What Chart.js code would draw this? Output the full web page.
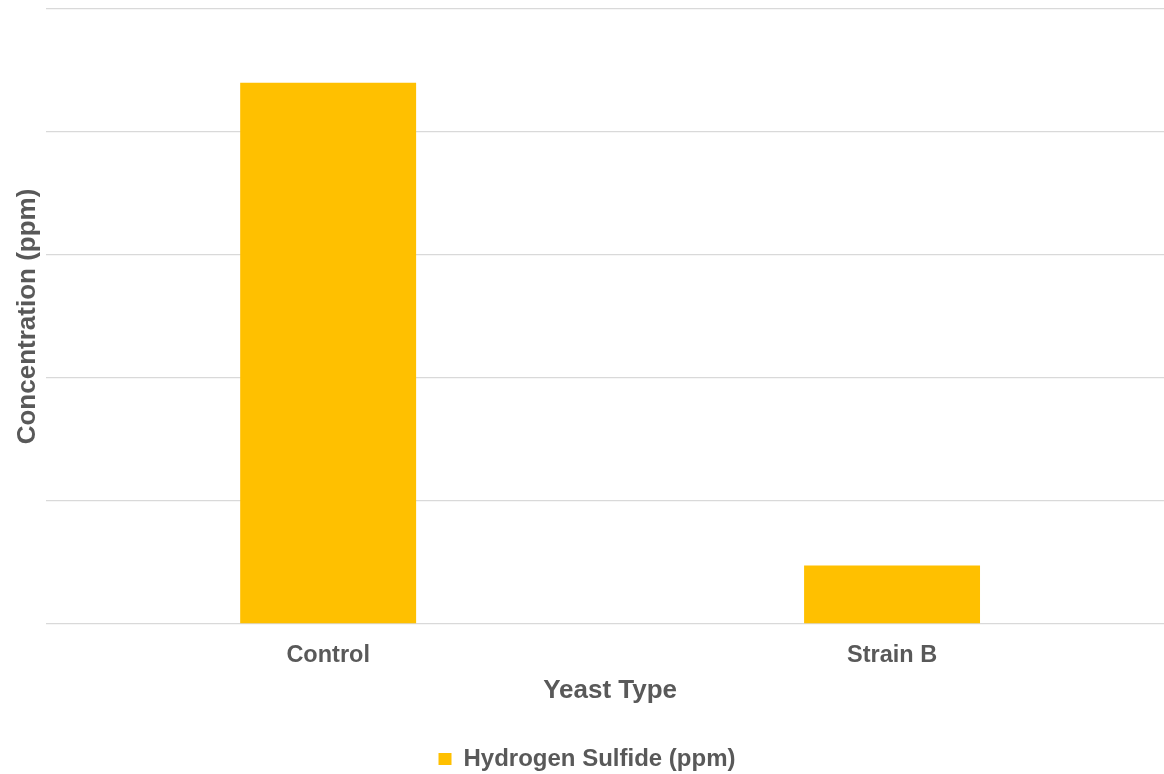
<!DOCTYPE html>
<html>
<head>
<meta charset="utf-8">
<script src="https://cdn.jsdelivr.net/npm/chart.js@4"></script>
<style>
  html, body { margin: 0; padding: 0; background: #fff; overflow: hidden; }
  #wrap { width: 1174px; height: 774px; position: relative; }
</style>
</head>
<body>
<div id="wrap"><canvas id="chart"></canvas></div>
<script>
// ── Data ────────────────────────────────────────────
const categories = ['Control', 'Strain B'];
const seriesName = 'Hydrogen Sulfide (ppm)';
const h2sValues = [4.40, 0.475];
const yMin = 0, yMax = 5, yStep = 1;

const textColor = '#595959';
const font = 'Liberation Sans, Arial, sans-serif';

// plot area runs slightly past the right edge of the page, like the source image
new Chart(document.getElementById('chart'), {
    type: 'bar',
    data: {
        labels: categories,
        datasets: [{
            label: seriesName,
            data: h2sValues,
            backgroundColor: '#ffc000',
            borderWidth: 0,
            categoryPercentage: 1,
            barPercentage: 0.312
        }]
    },
    options: {
        responsive: true,
        maintainAspectRatio: false,
        animation: false,
        layout: { padding: { top: 9, right: 0, left: 0, bottom: 0 } },
        plugins: {
            legend: {
                position: 'bottom',
                maxHeight: 27,
                labels: {
                    color: textColor,
                    font: { family: font, size: 24, weight: 'bold' },
                    boxWidth: 13,
                    boxHeight: 12,
                    padding: 0
                }
            },
            tooltip: { enabled: false }
        },
        scales: {
            x: {
                grid: { display: false, drawTicks: false },
                border: { display: false },
                ticks: {
                    color: textColor,
                    font: { family: font, size: 23.5, weight: 'bold', lineHeight: 0.545 },
                    padding: 25
                },
                title: {
                    display: true,
                    text: 'Yeast Type',
                    color: textColor,
                    font: { family: font, size: 26, weight: 'bold' },
                    padding: { top: -12, bottom: 41 }
                }
            },
            y: {
                min: yMin,
                max: yMax,
                grid: { color: '#d9d9d9', lineWidth: 1.3, drawTicks: false },
                border: { display: false },
                ticks: { display: false, stepSize: yStep },
                title: {
                    display: true,
                    text: 'Concentration (ppm)',
                    color: textColor,
                    font: { family: font, size: 26, weight: 'bold' },
                    padding: { top: 12, bottom: 3 }
                }
            }
        }
    }
});
</script>
</body>
</html>
